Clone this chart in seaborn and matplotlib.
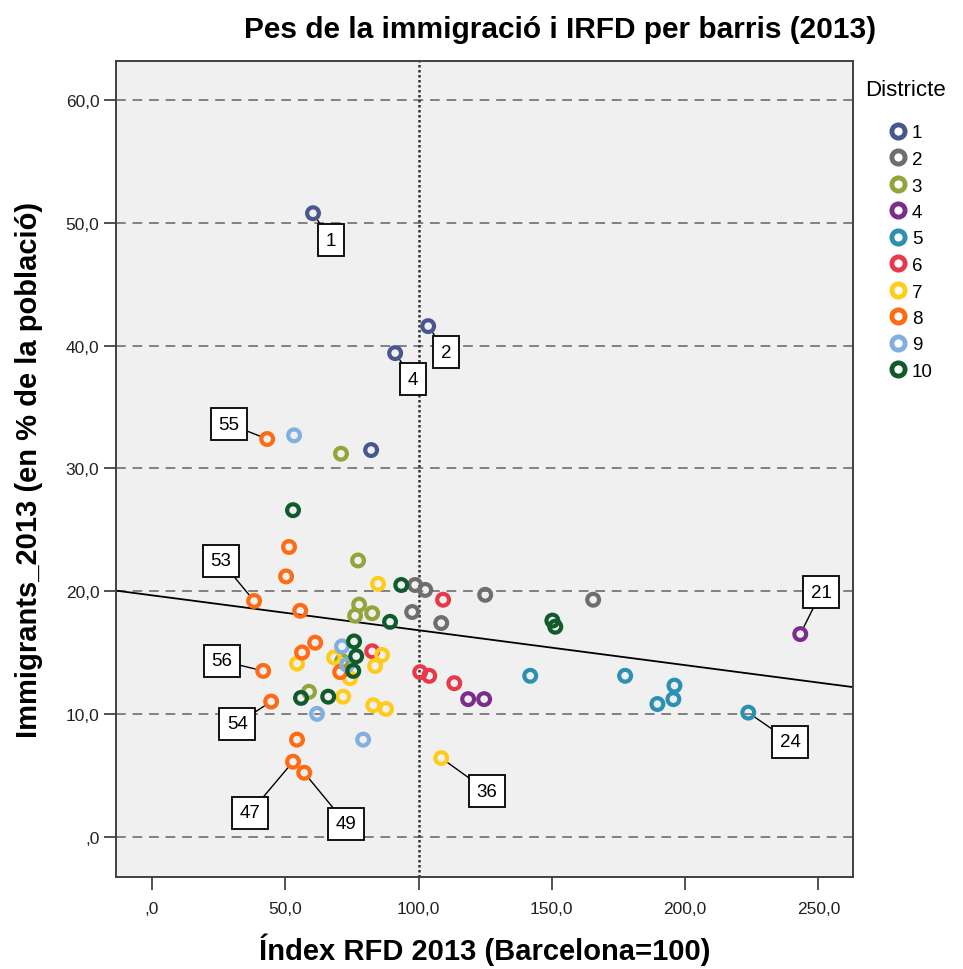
import pandas as pd
import matplotlib.pyplot as plt
from matplotlib.lines import Line2D
import seaborn as sns

# Index RFD (x), % immigrants (y), district and barri label (only some are labelled)
rfd = [60.4, 103.6, 91.2, 82.2,
       98.7, 102.5, 97.6, 108.5, 125.0, 165.5,
       70.9, 77.3, 77.7, 82.6, 76.2, 58.9, 71.3,
       118.6, 124.6, 243.2,
       141.9, 177.5, 196.0, 195.6, 189.6, 223.7,
       109.2, 100.6, 104.0, 113.4, 82.6,
       84.8, 108.5, 54.4, 68.3, 86.3, 83.7, 71.7, 83.0, 87.8, 74.3,
       43.2, 51.4, 50.3, 38.3, 55.6, 61.2, 56.3, 41.7, 44.7, 54.4, 52.9, 57.1, 70.6,
       53.3, 61.9, 79.2, 71.3, 73.2,
       52.9, 93.5, 89.3, 150.2, 151.3, 75.8, 76.6, 75.5, 55.9, 66.1]
immigrants = [50.8, 41.6, 39.4, 31.5,
              20.5, 20.1, 18.3, 17.4, 19.7, 19.3,
              31.2, 22.5, 18.9, 18.2, 18.0, 11.8, 14.3,
              11.2, 11.2, 16.5,
              13.1, 13.1, 12.3, 11.2, 10.8, 10.1,
              19.3, 13.4, 13.1, 12.5, 15.1,
              20.6, 6.4, 14.1, 14.6, 14.8, 13.9, 11.4, 10.7, 10.4, 12.9,
              32.4, 23.6, 21.2, 19.2, 18.4, 15.8, 15.0, 13.5, 11.0, 7.9, 6.1, 5.2, 13.4,
              32.7, 10.0, 7.9, 15.5, 14.0,
              26.6, 20.5, 17.5, 17.6, 17.1, 15.9, 14.7, 13.5, 11.3, 11.4]
districte = [1] * 4 + [2] * 6 + [3] * 7 + [4] * 3 + [5] * 6 + [6] * 5 + [7] * 10 + [8] * 13 + [9] * 5 + [10] * 10
etiqueta = ['1', '2', '4', '',
            '', '', '', '', '', '',
            '', '', '', '', '', '', '',
            '', '', '21',
            '', '', '', '', '', '24',
            '', '', '', '', '',
            '', '36', '', '', '', '', '', '', '', '',
            '55', '', '', '53', '', '', '', '56', '54', '', '47', '49', '',
            '', '', '', '', '',
            '', '', '', '', '', '', '', '', '', '']

districtes = [1, 2, 3, 4, 5, 6, 7, 8, 9, 10]
colors = ['#48588f', '#6e6e6e', '#93a53a', '#7b2d8b', '#2a91b3',
          '#e8394a', '#ffcc1a', '#ff6a12', '#80afe0', '#0f5b2b']
xticks = [0, 50, 100, 150, 200, 250]
xtick_labels = [',0', '50,0', '100,0', '150,0', '200,0', '250,0']
yticks = [0, 10, 20, 30, 40, 50, 60]
ytick_labels = [',0', '10,0', '20,0', '30,0', '40,0', '50,0', '60,0']

# label box offsets in pixels from the point
offsets = {'1': (18, -27), '2': (18, -26), '4': (18, -26), '55': (-38, 15),
           '53': (-33, 40), '56': (-41, 10), '54': (-34, -22), '47': (-43, -51),
           '49': (42, -51), '36': (46, -33), '24': (42, -29), '21': (21, 42)}

df = pd.DataFrame({'rfd': rfd, 'immig': immigrants, 'districte': districte, 'etiqueta': etiqueta})
palette = dict(zip(districtes, colors))

sns.set_theme(style='white')
plt.rcParams['font.family'] = ['Liberation Sans', 'DejaVu Sans']
plt.rcParams['text.color'] = 'black'
plt.rcParams['axes.labelcolor'] = 'black'

fig = plt.figure(figsize=(9.63, 9.70), dpi=100)
ax = fig.add_axes([0.1205, 0.0948, 0.7653, 0.8412])
ax.set_facecolor('#f0f0f0')
ax.set_xlim(-13.5, 263)
ax.set_ylim(-3.3, 63.2)

for yv in yticks:
    ax.axhline(yv, color='#808080', lw=1.4, ls=(0, (5, 3.5)), zorder=1)
ax.axvline(100, color='#333333', lw=1.8, ls=(0, (1, 1)), zorder=1)

sns.regplot(data=df, x='rfd', y='immig', scatter=False, ci=None, truncate=False,
            color='black', line_kws={'lw': 1.3, 'zorder': 2}, ax=ax)

sns.scatterplot(data=df, x='rfd', y='immig', hue='districte', palette=palette,
                s=72, legend=False, ax=ax, zorder=3)
coll = ax.collections[-1]
fc = coll.get_facecolors()
coll.set_edgecolors(fc)
coll.set_facecolors('none')
coll.set_linewidths(3.0)

for _, row in df[df['etiqueta'] != ''].iterrows():
    dx, dy = offsets[row['etiqueta']]
    ax.annotate(row['etiqueta'], xy=(row['rfd'], row['immig']), xytext=(dx, dy),
                textcoords='offset pixels', ha='center', va='center', fontsize=13.5,
                bbox=dict(boxstyle='square,pad=0.4', fc='white', ec='black', lw=1.3),
                arrowprops=dict(arrowstyle='-', color='black', lw=1, shrinkA=0, shrinkB=6),
                zorder=5)

ax.set_xticks(xticks)
ax.set_xticklabels(xtick_labels)
ax.set_yticks(yticks)
ax.set_yticklabels(ytick_labels)
ax.tick_params(axis='x', pad=8)
ax.tick_params(axis='y', pad=3)
ax.tick_params(direction='out', length=9, width=1.2, color='#333333',
               labelsize=12.5, labelcolor='#222222', bottom=True, left=True)
for sp in ax.spines.values():
    sp.set_color('#404040')
    sp.set_linewidth(1.4)

ax.set_xlabel('Índex RFD 2013 (Barcelona=100)', fontsize=21, fontweight='bold', labelpad=12)
ax.set_ylabel('Immigrants_2013 (en % de la població)', fontsize=21, fontweight='bold', labelpad=16)
fig.text(0.582, 0.969, 'Pes de la immigració i IRFD per barris (2013)', ha='center', va='center',
         fontsize=21.5, fontweight='bold')

fig.text(865 / 963, 1 - 90 / 970, 'Districte', ha='left', va='center', fontsize=16)
handles = [Line2D([], [], marker='o', ls='', mfc='none', mec=c, mew=3.5, ms=9.5) for c in colors]
leg = fig.legend(handles, [str(d) for d in districtes], loc='upper left',
                 bbox_to_anchor=(878 / 963, 1 - 116 / 970), frameon=False, fontsize=13.5,
                 labelspacing=0.5, handlelength=1.1, handletextpad=0.2, borderpad=0)

plt.savefig('out.png', dpi=100)
plt.close()
